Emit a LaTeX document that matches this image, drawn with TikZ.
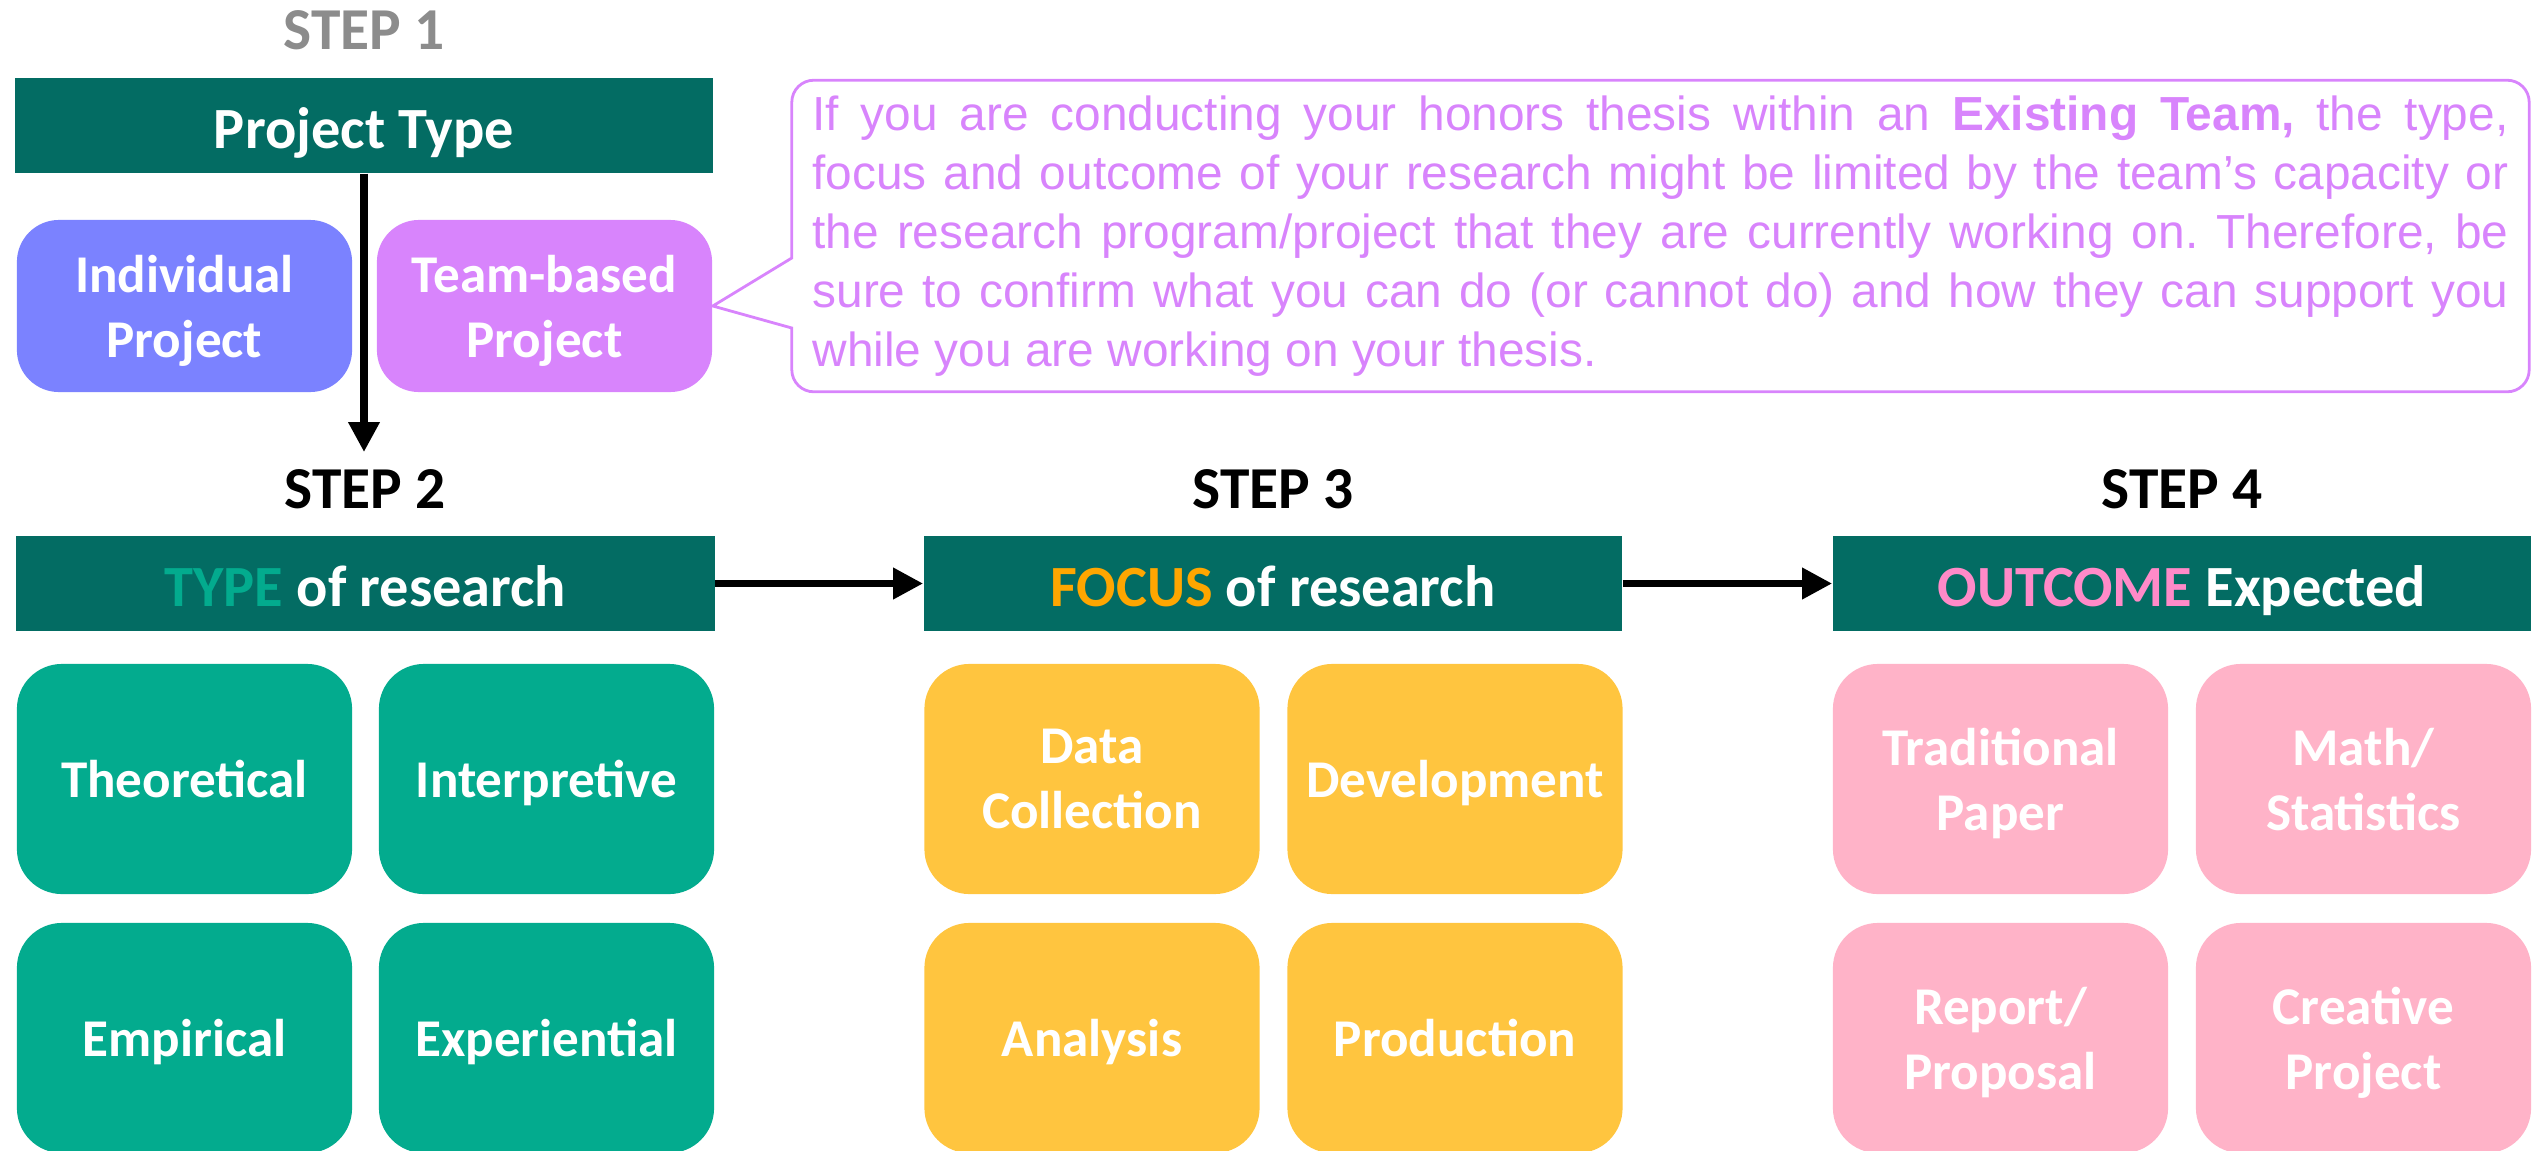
\documentclass[tikz,border=0pt]{standalone}
\usepackage{fontspec}
\setmainfont{Carlito}
\newfontfamily\notefont{Liberation Sans}
\usetikzlibrary{arrows.meta}
\usetikzlibrary{calc}

\definecolor{headteal}{HTML}{036C63}
\definecolor{tileteal}{HTML}{03AB8E}
\definecolor{tilegold}{HTML}{FFC53F}
\definecolor{focusword}{HTML}{FFA600}
\definecolor{tilepink}{HTML}{FFB3C8}
\definecolor{outword}{HTML}{FF8AC8}
\definecolor{indblue}{HTML}{7B82FF}
\definecolor{teamviolet}{HTML}{D884FC}
\definecolor{stepgray}{HTML}{8C8C8C}

\tikzset{
  steplabel/.style={inner sep=0pt, font=\bfseries\fontsize{16.9pt}{19pt}\selectfont},
  header/.style={fill=headteal, text=white, minimum width=6.98cm, minimum height=0.95cm,
    inner sep=0pt, text height=13pt, text depth=0pt,
    font=\bfseries\fontsize{16.6pt}{19pt}\selectfont},
  tile/.style={rounded corners=0.45cm, minimum width=3.35cm, minimum height=2.3cm,
    inner sep=0pt, text depth=0pt, align=center, text=white,
    font=\bfseries\fontsize{15.1pt}{18.5pt}\selectfont},
  typetile/.style={tile, fill=tileteal},
  focustile/.style={tile, fill=tilegold},
  outtile/.style={tile, fill=tilepink},
  flow/.style={-{Triangle[length=8.5pt,width=8.5pt]}, line width=2pt, black},
  notebox/.style={minimum width=17.35cm, minimum height=3.1cm, inner xsep=0.2cm, inner ysep=0pt,
    text width=16.95cm, align=justify, text=teamviolet,
    font=\notefont\fontsize{13.6pt}{16.8pt}\selectfont}
}

\begin{document}
\begin{tikzpicture}[x=0.01cm, y=-0.01cm]
    % Рамка картинки (в пикселях, ось y вниз)
    \useasboundingbox (0,0) rectangle (2547,1151);

    % Шаг 1
    \node[steplabel, text=stepgray] (step1) at (364,30) {STEP 1};
    \node[header] (ptype) at (364,125.5) {Project Type};
    \node[tile, fill=indblue, minimum height=1.72cm, rounded corners=0.42cm] (indiv) at (184.5,306) {Individual\\Project};
    \node[tile, fill=teamviolet, minimum height=1.72cm, rounded corners=0.42cm] (team) at (544.5,306) {Team-based\\Project};

    % Выноска с пояснением
    \node[notebox] (note) at (1660.5,236) {\frenchspacing\tolerance=9999 \hyphenpenalty=10000\relax
      If you are conducting your honors thesis within an \textbf{Existing Team,} the type,\linebreak
      focus and outcome of your research might be limited by the team’s capacity or\linebreak
      the research program/project that they are currently working on. Therefore, be\linebreak
      sure to confirm what you can do (or cannot do) and how they can support you\linebreak
      while you are working on your thesis.};
    \draw[teamviolet, line width=0.8pt] (team.east) -- ($(note.west)+(0,22)$)
      {[rounded corners=0.22cm] -- (note.north west) -- (note.north east) -- (note.south east) -- (note.south west)}
      -- ($(note.west)+(0,92)$) -- cycle;

    % Стрелка вниз к шагу 2
    \coordinate (ptypeend) at (364,452);
    \draw[flow] (ptype.south) -- (ptypeend);

    % Заголовки шагов 2--4
    \node[steplabel] (step2) at (365.5,489) {STEP 2};
    \node[steplabel] (step3) at (1273,489) {STEP 3};
    \node[steplabel] (step4) at (2182,489) {STEP 4};
    \node[header] (typehd) at (365.5,583.5) {\textcolor{tileteal}{TYPE} of research};
    \node[header] (focushd) at (1273,583.5) {\textcolor{focusword}{FOCUS} of research};
    \node[header] (outhd) at (2182,583.5) {\textcolor{outword}{OUTCOME} Expected};

    % Стрелки между шагами
    \draw[flow] (typehd.east) -- (focushd.west);
    \draw[flow] (focushd.east) -- (outhd.west);

    % Плитки: тип исследования
    \node[typetile] (theo) at (184.5,779) {Theoretical};
    \node[typetile] (interp) at (546.5,779) {Interpretive};
    \node[typetile] (empir) at (184.5,1038) {Empirical};
    \node[typetile] (exper) at (546.5,1038) {Experiential};

    % Плитки: фокус
    \node[focustile] (datacol) at (1092,779) {Data\\Collection};
    \node[focustile] (devel) at (1455,779) {Development};
    \node[focustile] (analys) at (1092,1038) {Analysis};
    \node[focustile] (produc) at (1455,1038) {Production};

    % Плитки: результат
    \node[outtile] (tradpap) at (2000.5,779) {Traditional\\Paper};
    \node[outtile] (mathstat) at (2363.5,779) {Math/\\Statistics};
    \node[outtile] (reportprop) at (2000.5,1038) {Report/\\Proposal};
    \node[outtile] (creaproj) at (2363.5,1038) {Creative\\Project};
\end{tikzpicture}
\end{document}
